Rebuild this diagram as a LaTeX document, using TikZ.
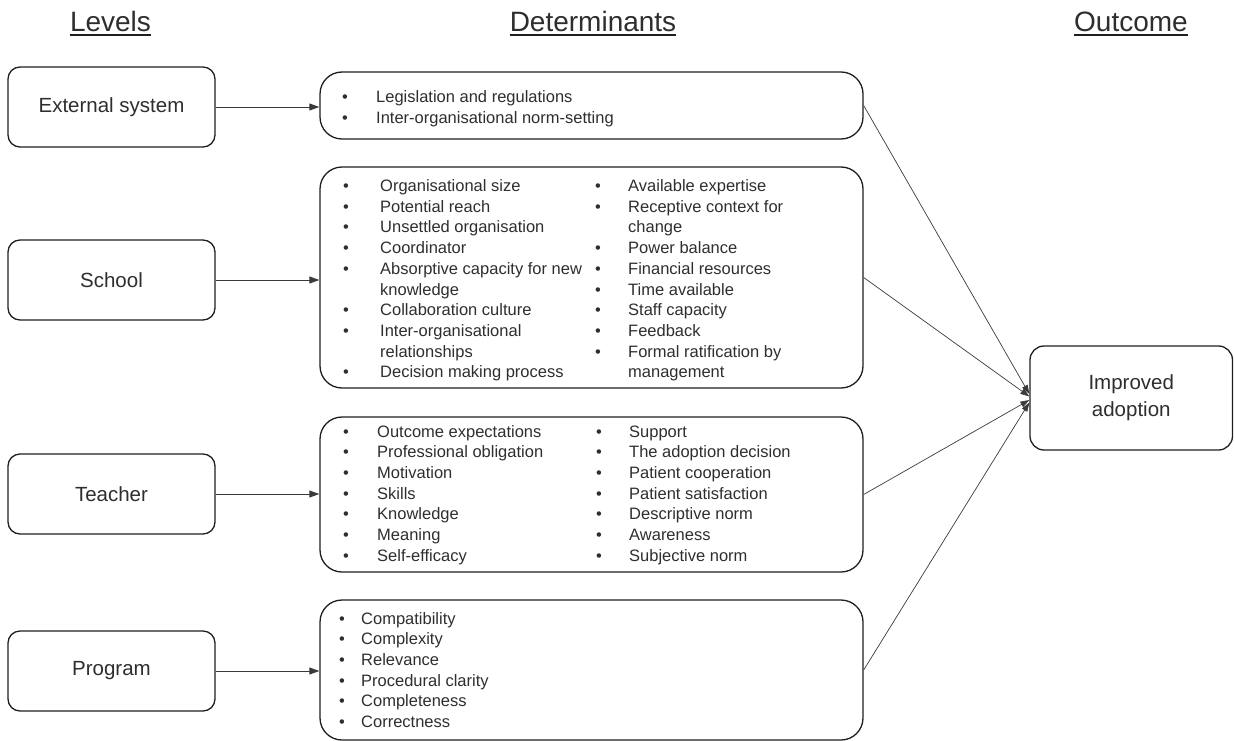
\documentclass[tikz,border=0pt]{standalone}
\usepackage{fontspec}
\setmainfont{Liberation Sans}
\usetikzlibrary{arrows.meta,calc}

\definecolor{ink}{HTML}{1F1F1F}
\definecolor{txt}{HTML}{2E2E2E}
\definecolor{wire}{HTML}{3A3A3A}

% bulleted column: #1 = gap between bullet and text, #2 = rows
\newlength\bgap
\newcommand\bi{\makebox[\bgap][l]{\textbullet}}
\newcommand\ci{\hspace*{\bgap}}
\newcommand\blist[2]{\setlength\bgap{#1}\begin{tabular}[t]{@{}l@{}}#2\end{tabular}}

\tikzset{
  levelbox/.style={draw=ink, line width=1.3pt, rounded corners=12pt,
    minimum width=207pt, minimum height=80pt, inner sep=0pt,
    font=\fontsize{20.5}{26}\selectfont, text=txt},
  detbox/.style={draw=ink, line width=1.3pt, rounded corners=22pt, inner sep=0pt},
  outbox/.style={draw=ink, line width=1.3pt, rounded corners=14pt, inner sep=0pt,
    align=center, font=\fontsize{20.5}{27}\selectfont, text=txt},
  header/.style={anchor=base, inner sep=0pt, text=txt,
    font=\fontsize{28}{32}\selectfont},
  rule/.style={draw=ink, line width=1.4pt},
  column/.style={anchor=base west, inner sep=0pt, text=txt,
    font=\fontsize{16.5}{20.7}\selectfont},
  feed/.style={draw=wire, line width=0.9pt, -{Triangle[length=10pt,width=7pt]}},
  merge/.style={draw=wire, line width=0.7pt, -{Triangle[length=9pt,width=6pt]}},
}

\begin{document}
\begin{tikzpicture}[x=1pt, y=-1pt]
\useasboundingbox (0,0) rectangle (1234,741);

% column headings
\node[header] (hlev) at (110.5,31.5) {Levels};
\node[header] (hdet) at (593,31.5) {Determinants};
\node[header] (hout) at (1131,31.5) {Outcome};
\foreach \h in {hlev,hdet,hout}
  \draw[rule] ([yshift=-3.5pt]\h.base west) -- ([yshift=-3.5pt]\h.base east);

% levels
\node[levelbox] (ext) at (111.5,107) {External system};
\node[levelbox] (sch) at (111.5,280) {School};
\node[levelbox] (tea) at (111.5,494) {Teacher};
\node[levelbox] (prg) at (111.5,671) {Program};

% determinant boxes
\node[detbox, minimum width=543pt, minimum height=67pt]  (dext) at (591.5,105.5) {};
\node[detbox, minimum width=543pt, minimum height=221pt] (dsch) at (591.5,277.5) {};
\node[detbox, minimum width=543pt, minimum height=155pt] (dtea) at (591.5,494.5) {};
\node[detbox, minimum width=543pt, minimum height=140pt] (dprg) at (591.5,670) {};

% determinant lists
\node[column] (lext) at (342,102.5) {\blist{34pt}{%
  \bi Legislation and regulations\\
  \bi Inter-organisational norm-setting}};

\node[column] (lscha) at (343,191.5) {\blist{37pt}{%
  \bi Organisational size\\
  \bi Potential reach\\
  \bi Unsettled organisation\\
  \bi Coordinator\\
  \bi Absorptive capacity for new\\
  \ci knowledge\\
  \bi Collaboration culture\\
  \bi Inter-organisational\\
  \ci relationships\\
  \bi Decision making process}};
\node[column] (lschb) at (595,191.5) {\blist{33pt}{%
  \bi Available expertise\\
  \bi Receptive context for\\
  \ci change\\
  \bi Power balance\\
  \bi Financial resources\\
  \bi Time available\\
  \bi Staff capacity\\
  \bi Feedback\\
  \bi Formal ratification by\\
  \ci management}};

\node[column] (lteaa) at (343,437) {\blist{34pt}{%
  \bi Outcome expectations\\
  \bi Professional obligation\\
  \bi Motivation\\
  \bi Skills\\
  \bi Knowledge\\
  \bi Meaning\\
  \bi Self-efficacy}};
\node[column] (lteab) at (596,437) {\blist{33pt}{%
  \bi Support\\
  \bi The adoption decision\\
  \bi Patient cooperation\\
  \bi Patient satisfaction\\
  \bi Descriptive norm\\
  \bi Awareness\\
  \bi Subjective norm}};

\node[column] (lprg) at (339,624) {\blist{22pt}{%
  \bi Compatibility\\
  \bi Complexity\\
  \bi Relevance\\
  \bi Procedural clarity\\
  \bi Completeness\\
  \bi Correctness}};

% outcome
\node[outbox, minimum width=202.5pt, minimum height=104pt] (out) at (1131.25,398)
  {Improved\\adoption};

% level -> determinants
\foreach \a/\b in {ext/dext, sch/dsch, tea/dtea, prg/dprg}
  \draw[feed] (\a.east) -- (\a.east -| \b.west);

% determinants -> outcome
\draw[merge] (dext.east) -- ($(out.west)+(0,-4)$);
\draw[merge] (dsch.east) -- ($(out.west)+(0,-1.5)$);
\draw[merge] (dtea.east) -- ($(out.west)+(0,2)$);
\draw[merge] (dprg.east) -- ($(out.west)+(0,4.5)$);
\end{tikzpicture}
\end{document}
